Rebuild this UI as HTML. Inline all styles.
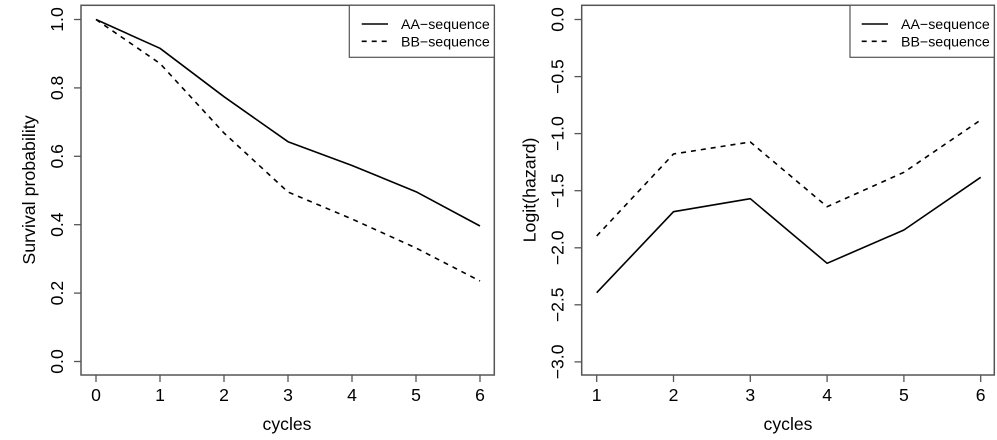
<!DOCTYPE html>
<html>
<head>
<meta charset="utf-8">
<style>
html,body{margin:0;padding:0;background:#fff;}
svg{display:block;}
text{font-family:"Liberation Sans",Arial,Helvetica,sans-serif;fill:#000;}
</style>
</head>
<body>
<svg width="997" height="440" viewBox="0 0 997 440" xmlns="http://www.w3.org/2000/svg">
<rect x="0" y="0" width="997" height="440" fill="#fff"/>

<!-- ============ LEFT PLOT ============ -->
<g>
  <rect x="81" y="5.3" width="413.3" height="369.7" fill="none" stroke="#555" stroke-width="1.5"/>
  <!-- x ticks -->
  <g stroke="#555" stroke-width="1.3">
    <line x1="96" y1="375" x2="96" y2="382"/>
    <line x1="160" y1="375" x2="160" y2="382"/>
    <line x1="224" y1="375" x2="224" y2="382"/>
    <line x1="288" y1="375" x2="288" y2="382"/>
    <line x1="352" y1="375" x2="352" y2="382"/>
    <line x1="416" y1="375" x2="416" y2="382"/>
    <line x1="480" y1="375" x2="480" y2="382"/>
  </g>
  <g font-size="17.6" text-anchor="middle">
    <text x="96" y="401">0</text>
    <text x="160" y="401">1</text>
    <text x="224" y="401">2</text>
    <text x="288" y="401">3</text>
    <text x="352" y="401">4</text>
    <text x="416" y="401">5</text>
    <text x="480" y="401">6</text>
  </g>
  <text x="287" y="430" font-size="17.6" text-anchor="middle">cycles</text>
  <!-- y ticks -->
  <g stroke="#555" stroke-width="1.3">
    <line x1="74" y1="361.5" x2="81" y2="361.5"/>
    <line x1="74" y1="293.1" x2="81" y2="293.1"/>
    <line x1="74" y1="224.7" x2="81" y2="224.7"/>
    <line x1="74" y1="156.3" x2="81" y2="156.3"/>
    <line x1="74" y1="87.9" x2="81" y2="87.9"/>
    <line x1="74" y1="19.5" x2="81" y2="19.5"/>
  </g>
  <g font-size="17.6" text-anchor="middle">
    <text transform="translate(63,361.5) rotate(-90)">0.0</text>
    <text transform="translate(63,293.1) rotate(-90)">0.2</text>
    <text transform="translate(63,224.7) rotate(-90)">0.4</text>
    <text transform="translate(63,156.3) rotate(-90)">0.6</text>
    <text transform="translate(63,87.9) rotate(-90)">0.8</text>
    <text transform="translate(63,19.5) rotate(-90)">1.0</text>
  </g>
  <text transform="translate(35,190) rotate(-90)" font-size="17.8" text-anchor="middle">Survival probability</text>
  <!-- series -->
  <polyline fill="none" stroke="#000" stroke-width="1.6" stroke-linejoin="round"
    points="96,19.5 160,48.3 224,96.7 288,141.7 352,165.5 416,191.7 480,226"/>
  <polyline fill="none" stroke="#000" stroke-width="1.6" stroke-dasharray="5,5"
    points="96,19.5 160,63.5 224,133 288,192 352,219 416,248 480,281"/>
  <!-- legend -->
  <rect x="349.3" y="5.3" width="145" height="52" fill="#fff" stroke="#555" stroke-width="1.2"/>
  <line x1="361.7" y1="24" x2="388" y2="24" stroke="#000" stroke-width="1.6"/>
  <line x1="361.7" y1="41.3" x2="388" y2="41.3" stroke="#000" stroke-width="1.6" stroke-dasharray="5,5"/>
  <text x="401" y="29" font-size="14.2">AA−sequence</text>
  <text x="401" y="46.3" font-size="14.2">BB−sequence</text>
</g>

<!-- ============ RIGHT PLOT ============ -->
<g>
  <rect x="581.7" y="5.3" width="412.6" height="369.7" fill="none" stroke="#555" stroke-width="1.5"/>
  <g stroke="#555" stroke-width="1.3">
    <line x1="596.7" y1="375" x2="596.7" y2="382"/>
    <line x1="673.5" y1="375" x2="673.5" y2="382"/>
    <line x1="750.3" y1="375" x2="750.3" y2="382"/>
    <line x1="827.1" y1="375" x2="827.1" y2="382"/>
    <line x1="903.9" y1="375" x2="903.9" y2="382"/>
    <line x1="980.7" y1="375" x2="980.7" y2="382"/>
  </g>
  <g font-size="17.6" text-anchor="middle">
    <text x="596.7" y="401">1</text>
    <text x="673.5" y="401">2</text>
    <text x="750.3" y="401">3</text>
    <text x="827.1" y="401">4</text>
    <text x="903.9" y="401">5</text>
    <text x="980.7" y="401">6</text>
  </g>
  <text x="788" y="430" font-size="17.6" text-anchor="middle">cycles</text>
  <g stroke="#555" stroke-width="1.3">
    <line x1="574.5" y1="19.5" x2="581.7" y2="19.5"/>
    <line x1="574.5" y1="76.6" x2="581.7" y2="76.6"/>
    <line x1="574.5" y1="133.6" x2="581.7" y2="133.6"/>
    <line x1="574.5" y1="190.7" x2="581.7" y2="190.7"/>
    <line x1="574.5" y1="247.8" x2="581.7" y2="247.8"/>
    <line x1="574.5" y1="304.8" x2="581.7" y2="304.8"/>
    <line x1="574.5" y1="361.9" x2="581.7" y2="361.9"/>
  </g>
  <g font-size="17.6" text-anchor="middle">
    <text transform="translate(563.5,19.5) rotate(-90)">0.0</text>
    <text transform="translate(563.5,76.6) rotate(-90)">−0.5</text>
    <text transform="translate(563.5,133.6) rotate(-90)">−1.0</text>
    <text transform="translate(563.5,190.7) rotate(-90)">−1.5</text>
    <text transform="translate(563.5,247.8) rotate(-90)">−2.0</text>
    <text transform="translate(563.5,304.8) rotate(-90)">−2.5</text>
    <text transform="translate(563.5,361.9) rotate(-90)">−3.0</text>
  </g>
  <text transform="translate(535.5,190) rotate(-90)" font-size="17.8" text-anchor="middle">Logit(hazard)</text>
  <polyline fill="none" stroke="#000" stroke-width="1.6" stroke-linejoin="round"
    points="596.7,292.7 673.5,211.7 750.3,198.7 827.1,263.3 903.9,230 980.7,177.3"/>
  <polyline fill="none" stroke="#000" stroke-width="1.6" stroke-dasharray="5,5"
    points="596.7,236 673.5,154 750.3,142 827.1,206.7 903.9,172.3 980.7,120"/>
  <rect x="850" y="5.3" width="144.3" height="52" fill="#fff" stroke="#555" stroke-width="1.2"/>
  <line x1="861.7" y1="24" x2="888" y2="24" stroke="#000" stroke-width="1.6"/>
  <line x1="861.7" y1="41.3" x2="888" y2="41.3" stroke="#000" stroke-width="1.6" stroke-dasharray="5,5"/>
  <text x="901" y="29" font-size="14.2">AA−sequence</text>
  <text x="901" y="46.3" font-size="14.2">BB−sequence</text>
</g>
</svg>
</body>
</html>
